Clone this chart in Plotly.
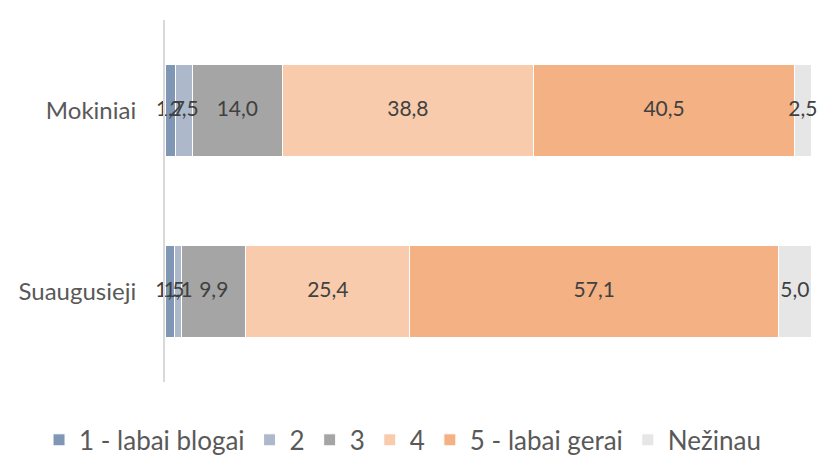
import plotly.graph_objects as go
import numpy as np

categories = ["Mokiniai", "Suaugusieji"]
series_names = ["1 - labai blogai", "2", "3", "4", "5 - labai gerai", "Nežinau"]
values = {
    "1 - labai blogai": [1.7, 1.5],
    "2": [2.5, 1.1],
    "3": [14.0, 9.9],
    "4": [38.8, 25.4],
    "5 - labai gerai": [40.5, 57.1],
    "Nežinau": [2.5, 5.0],
}
colors = ["#7F96B4", "#ADB9CA", "#A5A5A5", "#F8CBAD", "#F4B183", "#E7E6E6"]

FONT = "Lato, Open Sans, sans-serif"

fig = go.Figure()
for name, col in zip(series_names, colors):
    fig.add_trace(go.Bar(
        y=categories, x=values[name], name=name, orientation="h",
        marker=dict(color=col, line=dict(color="white", width=1)),
        hoverinfo="skip",
    ))

# data labels drawn on top of all bars (centre of each segment)
base = np.zeros(len(categories))
for name in series_names:
    v = np.array(values[name])
    fig.add_trace(go.Scatter(
        x=base + v / 2, y=categories, mode="text",
        text=[f"{x:.1f}".replace(".", ",") for x in v],
        textposition="middle center",
        textfont=dict(family=FONT, size=21, color="#404040"),
        showlegend=False, cliponaxis=False, hoverinfo="skip",
    ))
    base = base + v

fig.update_layout(
    barmode="stack", bargap=0.49,
    width=830, height=456,
    margin=dict(l=165, r=19, t=20, b=74, autoexpand=False),
    paper_bgcolor="white", plot_bgcolor="white",
    font=dict(family=FONT, size=24, color="#595959"),
    showlegend=True,
    legend=dict(orientation="h", x=-0.195, xanchor="left", xref="paper",
                y=-0.16, yanchor="middle", font=dict(size=26, color="#595959"),
                traceorder="normal", itemwidth=30),
)
fig.update_xaxes(range=[0, 100], showgrid=False, showticklabels=False,
                 zeroline=False, showline=False)
fig.update_yaxes(autorange="reversed", showline=True, linecolor="#D9D9D9",
                 linewidth=2, ticks="", ticklabelstandoff=22,
                 tickfont=dict(size=24, color="#595959"))

fig.write_html("out.html")
